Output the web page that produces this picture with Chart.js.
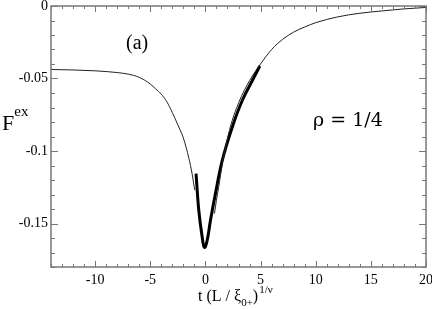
<!DOCTYPE html>
<html>
<head>
<meta charset="utf-8">
<script src="https://cdn.jsdelivr.net/npm/chart.js@4.4.0/dist/chart.umd.min.js"></script>
<style>
  html, body { margin: 0; padding: 0; background: #fff; }
  #wrap { width: 432px; height: 309px; }
</style>
</head>
<body>
<div id="wrap"><canvas id="myChart"></canvas></div>
<script>
// scaling function, thin line (left and right branches)
var leftX  = [-14, -12, -10, -9, -8, -7, -6, -5, -4.5, -4, -3.5, -3, -2.5, -2, -1.5, -1.2, -0.97];
var leftY  = [-0.0438, -0.0441, -0.0447, -0.0452, -0.0459, -0.0470, -0.0492, -0.0538, -0.0572, -0.0608, -0.0660, -0.0735, -0.0820, -0.0910, -0.1050, -0.1160, -0.1270];
var rightX = [0.82, 1.0, 1.2, 1.6, 2.2, 3.0, 4.0, 5.0, 6.0, 7.0, 8.0, 9.0, 10, 12, 14, 16, 18, 20];
var rightY = [-0.1432, -0.1340, -0.1250, -0.1060, -0.0850, -0.0670, -0.0515, -0.0400, -0.0300, -0.0230, -0.0180, -0.0145, -0.0115, -0.0075, -0.0050, -0.0034, -0.0020, -0.0010];
// simulation data, thick line
var thickX = [-0.85, -0.6, -0.3, -0.09, 0.15, 0.46, 0.91, 1.53, 2.44, 3.35, 4.42, 4.93];
var thickY = [-0.1156, -0.1410, -0.1590, -0.1665, -0.1620, -0.1478, -0.1294, -0.1064, -0.0834, -0.0650, -0.0490, -0.0414];

var xTicks = [-10, -5, 0, 5, 10, 15, 20];
var yTicks = [0, -0.05, -0.1, -0.15];

function pts(xs, ys) {
  return xs.map(function (v, i) { return { x: v, y: ys[i] }; });
}

var serif = '"Liberation Serif", "Times New Roman", serif';

// box with inward ticks on all four sides + axis titles
var framePlugin = {
  id: 'frame',
  afterDraw: function (chart) {
    var ctx = chart.ctx, a = chart.chartArea;
    var x = chart.scales.x, y = chart.scales.y;
    ctx.save();
    ctx.strokeStyle = '#777777';
    ctx.lineWidth = 1.5;
    ctx.strokeRect(a.left, a.top, a.right - a.left, a.bottom - a.top);
    ctx.lineWidth = 1;
    ctx.beginPath();
    for (var v = -14; v <= 20; v++) {
      var px = Math.round(x.getPixelForValue(v)) + 0.5;
      var len = (v % 5 === 0) ? 6 : 3;
      ctx.moveTo(px, a.bottom); ctx.lineTo(px, a.bottom - len);
      ctx.moveTo(px, a.top); ctx.lineTo(px, a.top + len);
    }
    for (var i = 0; i <= 18; i++) {
      var py = Math.round(y.getPixelForValue(-i / 100)) + 0.5;
      var l2 = (i % 5 === 0) ? 7 : 4;
      ctx.moveTo(a.left, py); ctx.lineTo(a.left + l2, py);
      ctx.moveTo(a.right, py); ctx.lineTo(a.right - l2, py);
    }
    ctx.stroke();

    ctx.fillStyle = '#000';
    ctx.textBaseline = 'alphabetic';
    ctx.textAlign = 'left';
    // y title F^ex
    ctx.font = '22px ' + serif;
    ctx.fillText('F', 2, 130);
    var fw = ctx.measureText('F').width;
    ctx.font = '15px ' + serif;
    ctx.fillText('ex', 2 + fw, 116);

    // x title t (L / xi_0+)^1/nu
    var cx = 198, base = 301;
    ctx.font = '16px ' + serif;
    var s1 = 't (L / \u03BE';
    ctx.fillText(s1, cx, base); cx += ctx.measureText(s1).width;
    ctx.font = '11px ' + serif;
    ctx.fillText('0+', cx, base + 5); cx += ctx.measureText('0+').width;
    ctx.font = '16px ' + serif;
    ctx.fillText(')', cx, base); cx += ctx.measureText(')').width;
    ctx.font = '11px ' + serif;
    ctx.fillText('1/\u03BD', cx + 1, base - 8);

    // panel labels
    ctx.font = '20px ' + serif;
    ctx.fillText('(a)', 126, 49);
    ctx.font = '19px "DejaVu Serif", serif';
    ctx.fillText('\u03C1 = 1/4', 313, 126);
    ctx.restore();
  }
};

new Chart(document.getElementById('myChart'), {
  type: 'line',
  data: {
    datasets: [{
      label: 'left',
      data: pts(leftX, leftY),
      borderColor: '#222222',
      borderWidth: 1,
      pointRadius: 0,
      cubicInterpolationMode: 'monotone',
      fill: false
    }, {
      label: 'right',
      data: pts(rightX, rightY),
      borderColor: '#222222',
      borderWidth: 1,
      pointRadius: 0,
      cubicInterpolationMode: 'monotone',
      fill: false
    }, {
      label: 'sim',
      data: pts(thickX, thickY),
      borderColor: '#000000',
      borderWidth: 3,
      pointRadius: 0,
      tension: 0.4,
      fill: false
    }]
  },
  options: {
    responsive: true,
    maintainAspectRatio: false,
    animation: false,
    layout: { padding: { top: 6, right: 6, left: 0, bottom: 0 } },
    plugins: {
      legend: { display: false },
      tooltip: { enabled: false }
    },
    scales: {
      x: {
        type: 'linear',
        min: -14,
        max: 20,
        afterBuildTicks: function (s) { s.ticks = xTicks.map(function (v) { return { value: v }; }); },
        afterFit: function (s) { s.height = 42; s.paddingLeft = 0; s.paddingRight = 0; },
        grid: { display: false, drawTicks: false },
        border: { display: false },
        ticks: {
          padding: 5,
          maxRotation: 0,
          autoSkip: false,
          color: '#000',
          font: { family: serif, size: 14 }
        }
      },
      y: {
        type: 'linear',
        min: -0.18,
        max: 0,
        afterBuildTicks: function (s) { s.ticks = yTicks.map(function (v) { return { value: v }; }); },
        afterFit: function (s) { s.width = 51; s.paddingTop = 0; s.paddingBottom = 0; },
        grid: { display: false, drawTicks: false },
        border: { display: false },
        ticks: {
          padding: 3,
          autoSkip: false,
          color: '#000',
          font: { family: serif, size: 14 },
          callback: function (v) { return v === 0 ? '0' : String(v); }
        }
      }
    }
  },
  plugins: [framePlugin]
});
</script>
</body>
</html>
